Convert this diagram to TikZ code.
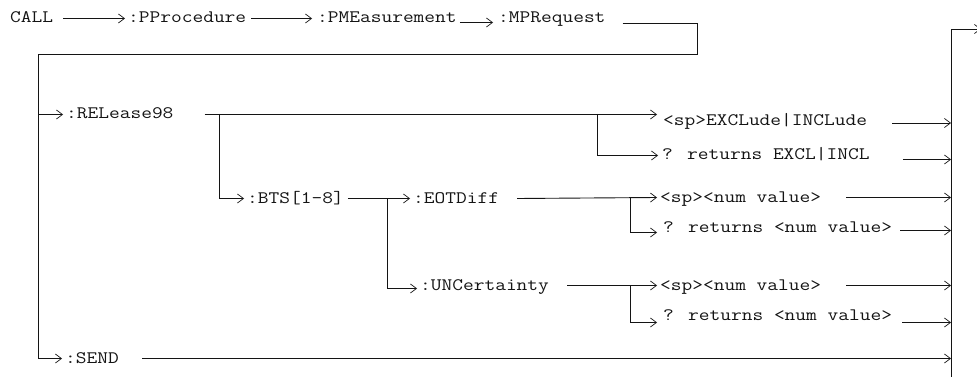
\documentclass[tikz,border=0pt]{standalone}
\usepackage{fontspec}
\usepackage{tikz}
\usetikzlibrary{arrows.meta,calc}
\newfontfamily\cmdfont{Latin Modern Mono}[FakeStretch=1.19]
\definecolor{syntaxink}{RGB}{20,20,20}

\tikzset{
  cmd/.style={font=\cmdfont\fontsize{17.5}{20}\selectfont, text=syntaxink,
    inner sep=0pt, anchor=base west, text height=9pt, text depth=0pt},
  link/.style={draw=syntaxink, line width=0.9pt},
  flow/.style={link, -{Straight Barb[length=6pt,width=9pt,line width=0.7pt]}}
}

\begin{document}
\begin{tikzpicture}[x=1pt, y=-1pt]
  \useasboundingbox (0,0) rectangle (977,377);

  % command tree
  \node[cmd] (call)    at (10,23)   {CALL};
  \node[cmd] (pproc)   at (128,23)  {:PProcedure};
  \node[cmd] (pmeas)   at (317,23)  {:PMEasurement};
  \node[cmd] (mpreq)   at (498,23)  {:MPRequest};
  \node[cmd] (release) at (66,119)  {:RELease98};
  \node[cmd] (bts)     at (247,203) {:BTS[1-8]};
  \node[cmd] (eotd)    at (413,203) {:EOTDiff};
  \node[cmd] (unc)     at (420,290) {:UNCertainty};
  \node[cmd] (send)    at (65,363)  {:SEND};

  % parameters and queries
  \node[cmd] (excl)    at (663,126) {<sp>EXCLude|INCLude};
  \node[cmd] (qexcl)   at (662,160) {? returns EXCL|INCL};
  \node[cmd] (eotnum)  at (660,202) {<sp><num value>};
  \node[cmd] (eotq)    at (663,232) {? returns <num value>};
  \node[cmd] (uncnum)  at (660,290) {<sp><num value>};
  \node[cmd] (uncq)    at (663,320) {? returns <num value>};

  % junctions
  \coordinate (wrapR)   at (697,54);
  \coordinate (spine)   at (38,54);
  \coordinate (relfork) at (597,114);
  \coordinate (btsfork) at (219,114);
  \coordinate (subfork) at (387,198);
  \coordinate (eotfork) at (630,198);
  \coordinate (uncfork) at (630,286);
  \coordinate (bustop)  at (951,29);
  \coordinate (busbot)  at (951,380);
  \coordinate (busout)  at (981,29);

  % top row
  \draw[flow] ([xshift=10pt]call.east) -- ([xshift=-3pt]pproc.west);
  \draw[flow] ([xshift=5pt]pproc.east) -- ([xshift=-5pt]pmeas.west);
  \draw[flow] ([shift={(3pt,-4pt)}]pmeas.east) -- ([shift={(-5pt,-4pt)}]mpreq.west);
  \draw[flow] ([shift={(17pt,-5pt)}]mpreq.east) -| (wrapR) -- (spine)
    |- ([xshift=-3pt]send.west);
  \draw[flow] (spine |- release.west) -- ([xshift=-3pt]release.west);

  % RELease98 branch
  \draw[flow] ([xshift=31pt]release.east) -- ([xshift=-6pt]excl.west |- release.west);
  \draw[flow] (relfork) |- ([xshift=-4pt]qexcl.west);
  \draw[flow] (btsfork) |- ([xshift=-3pt]bts.west);
  \draw[flow] ([xshift=4pt]bts.east) -- ([xshift=-3pt]eotd.west);
  \draw[flow] (subfork) |- ([shift={(-3pt,-3pt)}]unc.west);
  \draw[flow] ([xshift=18pt]eotd.east) -- ([xshift=-3pt]eotnum.west);
  \draw[flow] (eotfork) |- ([shift={(-6pt,-5pt)}]eotq.west);
  \draw[flow] ([xshift=18pt]unc.east) -- ([xshift=-3pt]uncnum.west);
  \draw[flow] (uncfork) |- ([shift={(-6pt,-7pt)}]uncq.west);

  % to the right-hand bus
  \draw[flow] ([shift={(25pt,-1.5pt)}]excl.east) -- ([yshift=-1.5pt]excl.east -| bustop);
  \draw[flow] ([shift={(33pt,-4pt)}]qexcl.east) -- ([yshift=-4pt]qexcl.east -| bustop);
  \draw[flow] ([xshift=25pt]eotnum.east) -- (eotnum.east -| bustop);
  \draw[flow] ([shift={(8pt,-3pt)}]eotq.east) -- ([yshift=-3pt]eotq.east -| bustop);
  \draw[flow] ([xshift=25pt]uncnum.east) -- (uncnum.east -| bustop);
  \draw[flow] ([shift={(10pt,-7pt)}]uncq.east) -- ([yshift=-7pt]uncq.east -| bustop);
  \draw[flow] ([xshift=23pt]send.east) -- (send.east -| bustop);
  \draw[flow] (busbot) -- (bustop) -- (busout);
\end{tikzpicture}
\end{document}
